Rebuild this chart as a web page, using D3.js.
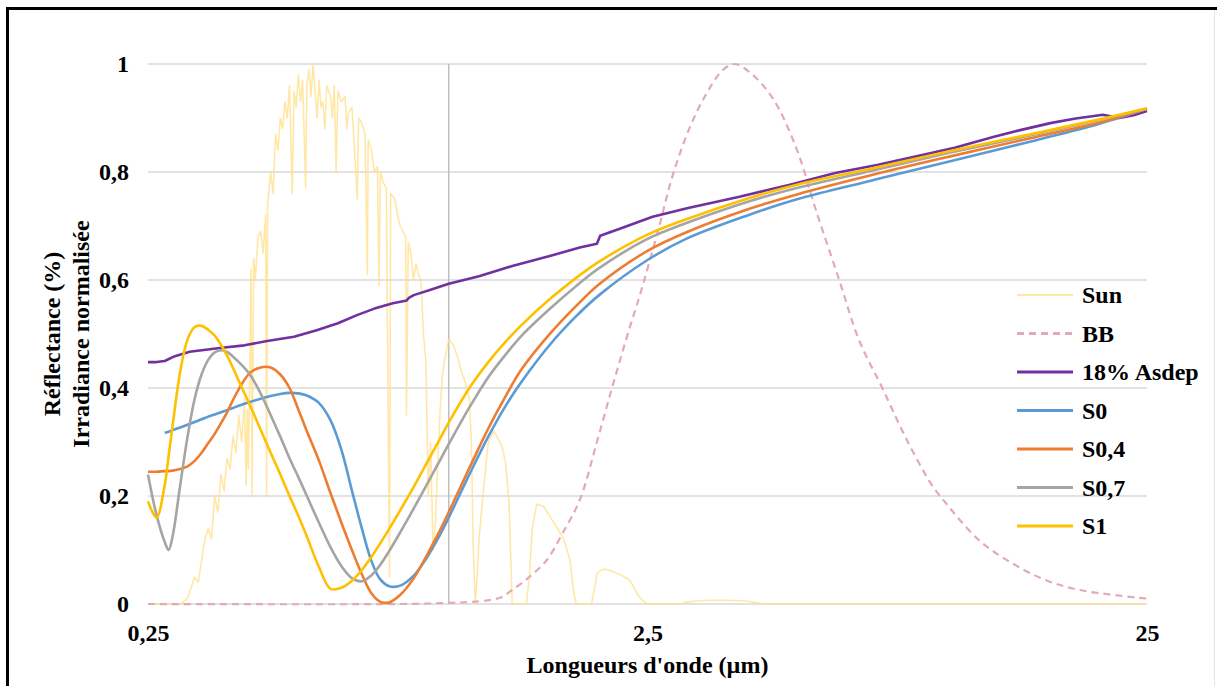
<!DOCTYPE html>
<html>
<head>
<meta charset="utf-8">
<script src="https://d3js.org/d3.v7.min.js"></script>
<style>
body { margin: 0; background: #fff; }
svg { display: block; }
text { font-family: "Liberation Serif", "Times New Roman", serif; font-weight: bold; fill: #000; }
</style>
</head>
<body>
<svg id="chart" width="1217" height="686"></svg>
<script>
// axis ticks
var yTicks = [0, 0.2, 0.4, 0.6, 0.8, 1];
var xTicks = [0.25, 2.5, 25];

// normalised solar irradiance
var sunWave = [0.25, 0.29, 0.30, 0.31, 0.315, 0.32, 0.325, 0.33, 0.335, 0.34, 0.345, 0.35, 0.355, 0.36, 0.365, 0.37, 0.375, 0.38, 0.385, 0.39, 0.393, 0.395, 0.397, 0.40, 0.402, 0.404, 0.407, 0.41, 0.415, 0.42, 0.425, 0.43, 0.432, 0.434, 0.44, 0.445, 0.45, 0.455, 0.46, 0.465, 0.47, 0.475, 0.48, 0.486, 0.49, 0.495, 0.50, 0.505, 0.51, 0.517, 0.52, 0.525, 0.53, 0.535, 0.54, 0.545, 0.55, 0.555, 0.56, 0.565, 0.57, 0.58, 0.585, 0.59, 0.595, 0.60, 0.61, 0.62, 0.625, 0.63, 0.64, 0.645, 0.656, 0.66, 0.67, 0.68, 0.687, 0.69, 0.70, 0.71, 0.72, 0.725, 0.73, 0.74, 0.75, 0.761, 0.765, 0.78, 0.79, 0.80, 0.81, 0.82, 0.823, 0.83, 0.84, 0.85, 0.86, 0.87, 0.88, 0.89, 0.90, 0.91, 0.92, 0.93, 0.94, 0.95, 0.96, 0.97, 0.98, 1.0, 1.02, 1.04, 1.06, 1.08, 1.1, 1.11, 1.12, 1.13, 1.14, 1.15, 1.17, 1.2, 1.23, 1.25, 1.28, 1.3, 1.32, 1.34, 1.43, 1.45, 1.47, 1.5, 1.55, 1.6, 1.65, 1.7, 1.75, 1.78, 1.8, 1.93, 1.96, 1.98, 2.0, 2.05, 2.1, 2.2, 2.3, 2.35, 2.4, 2.45, 2.5, 2.9, 3.0, 3.3, 3.6, 3.9, 4.1, 4.3, 25];
var sunVal = [0, 0, 0.01, 0.05, 0.04, 0.08, 0.12, 0.14, 0.12, 0.2, 0.17, 0.24, 0.21, 0.27, 0.25, 0.31, 0.28, 0.35, 0.3, 0.38, 0.22, 0.36, 0.25, 0.45, 0.62, 0.2, 0.64, 0.6, 0.68, 0.69, 0.65, 0.72, 0.2, 0.74, 0.8, 0.76, 0.87, 0.84, 0.9, 0.88, 0.93, 0.9, 0.96, 0.76, 0.95, 0.92, 0.98, 0.93, 0.97, 0.77, 0.96, 0.99, 0.94, 1.0, 0.95, 0.9, 0.97, 0.92, 0.93, 0.88, 0.96, 0.94, 0.9, 0.96, 0.8, 0.95, 0.93, 0.94, 0.88, 0.91, 0.92, 0.87, 0.75, 0.9, 0.89, 0.87, 0.61, 0.86, 0.84, 0.8, 0.81, 0.59, 0.8, 0.78, 0.77, 0.05, 0.76, 0.75, 0.72, 0.7, 0.69, 0.68, 0.35, 0.67, 0.65, 0.6, 0.63, 0.61, 0.6, 0.5, 0.45, 0.2, 0.3, 0.1, 0.15, 0.25, 0.35, 0.42, 0.45, 0.49, 0.48, 0.46, 0.43, 0.41, 0.38, 0.3, 0.1, 0.0, 0.05, 0.12, 0.2, 0.3, 0.32, 0.31, 0.29, 0.26, 0.19, 0.0, 0.0, 0.05, 0.14, 0.185, 0.18, 0.16, 0.14, 0.12, 0.08, 0.02, 0.0, 0.0, 0.03, 0.055, 0.06, 0.065, 0.062, 0.055, 0.045, 0.03, 0.015, 0.005, 0.0, 0.0, 0.004, 0.007, 0.007, 0.006, 0.003, 0, 0];

// normalised black body
var bbWave = [0.25, 0.8, 1.0, 1.15, 1.27, 1.34, 1.45, 1.57, 1.69, 1.83, 1.98, 2.13, 2.3, 2.41, 2.64, 2.8, 3.03, 3.28, 3.53, 3.73, 4.0, 4.45, 4.97, 5.44, 6.05, 6.64, 7.38, 8.24, 9.29, 9.73, 11.5, 13.4, 15.7, 18.3, 25];
var bbVal = [0, 0, 0.002, 0.005, 0.012, 0.026, 0.05, 0.081, 0.131, 0.193, 0.3, 0.405, 0.51, 0.57, 0.7, 0.79, 0.88, 0.945, 0.988, 1.0, 0.985, 0.937, 0.843, 0.728, 0.6, 0.487, 0.4, 0.306, 0.219, 0.195, 0.119, 0.076, 0.044, 0.026, 0.01];

// 18% Asdep reflectance
var asdepWave = [0.25, 0.26, 0.27, 0.283, 0.303, 0.348, 0.39, 0.433, 0.49, 0.544, 0.6, 0.655, 0.71, 0.773, 0.824, 0.832, 0.851, 0.92, 1.0, 1.15, 1.34, 1.6, 1.83, 1.98, 2.01, 2.2, 2.56, 3.0, 3.82, 4.8, 5.94, 7.2, 8.55, 10.3, 12.3, 14.0, 16.1, 18.0, 20.4, 22.0, 23.5, 25];
var asdepVal = [0.448, 0.448, 0.45, 0.459, 0.467, 0.474, 0.479, 0.487, 0.495, 0.507, 0.52, 0.535, 0.547, 0.557, 0.562, 0.567, 0.572, 0.582, 0.593, 0.607, 0.626, 0.645, 0.66, 0.667, 0.682, 0.695, 0.717, 0.733, 0.754, 0.776, 0.798, 0.813, 0.828, 0.845, 0.865, 0.878, 0.891, 0.899, 0.906, 0.9, 0.905, 0.913];

// S samples, common wavelength grid
var sWave = [0.25, 0.26, 0.27, 0.275, 0.28, 0.29, 0.30, 0.31, 0.32, 0.33, 0.34, 0.35, 0.36, 0.37, 0.38, 0.40, 0.42, 0.44, 0.46, 0.48, 0.50, 0.52, 0.55, 0.58, 0.61, 0.64, 0.67, 0.70, 0.73, 0.76, 0.80, 0.85, 0.90, 0.95, 1.0, 1.1, 1.2, 1.3, 1.4, 1.6, 1.8, 2.0, 2.5, 3, 4, 5, 7, 10, 15, 20, 25];
var s0Val = [null, null, 0.317, 0.319, 0.322, 0.327, 0.332, 0.337, 0.342, 0.347, 0.351, 0.355, 0.359, 0.363, 0.367, 0.374, 0.38, 0.385, 0.389, 0.391, 0.39, 0.386, 0.372, 0.34, 0.285, 0.21, 0.14, 0.08, 0.045, 0.033, 0.034, 0.052, 0.083, 0.12, 0.16, 0.24, 0.31, 0.367, 0.412, 0.482, 0.533, 0.572, 0.637, 0.677, 0.721, 0.75, 0.784, 0.819, 0.859, 0.889, 0.917];
var s04Val = [0.245, 0.245, 0.246, 0.246, 0.247, 0.25, 0.255, 0.265, 0.28, 0.298, 0.315, 0.335, 0.355, 0.378, 0.398, 0.428, 0.438, 0.438, 0.425, 0.4, 0.36, 0.32, 0.265, 0.205, 0.15, 0.1, 0.055, 0.02, 0.004, 0.003, 0.017, 0.047, 0.087, 0.128, 0.17, 0.252, 0.325, 0.385, 0.435, 0.502, 0.552, 0.592, 0.654, 0.689, 0.732, 0.759, 0.794, 0.828, 0.865, 0.891, 0.917];
var s07Val = [0.24, 0.165, 0.115, 0.1, 0.125, 0.22, 0.31, 0.38, 0.425, 0.452, 0.466, 0.47, 0.467, 0.458, 0.448, 0.425, 0.39, 0.35, 0.31, 0.27, 0.235, 0.2, 0.15, 0.105, 0.07, 0.048, 0.042, 0.053, 0.073, 0.098, 0.133, 0.176, 0.218, 0.258, 0.296, 0.364, 0.42, 0.462, 0.497, 0.548, 0.589, 0.622, 0.676, 0.706, 0.746, 0.771, 0.802, 0.835, 0.87, 0.896, 0.917];
var s1Val = [0.19, 0.16, 0.22, 0.275, 0.33, 0.43, 0.49, 0.513, 0.515, 0.508, 0.497, 0.48, 0.46, 0.437, 0.413, 0.368, 0.323, 0.28, 0.24, 0.2, 0.163, 0.125, 0.068, 0.028, 0.03, 0.043, 0.063, 0.087, 0.113, 0.139, 0.174, 0.216, 0.258, 0.298, 0.336, 0.4, 0.448, 0.486, 0.517, 0.566, 0.604, 0.634, 0.684, 0.713, 0.752, 0.777, 0.806, 0.838, 0.872, 0.897, 0.918];

var svg = d3.select("#chart");

var x = d3.scaleLog().domain([0.25, 25]).range([148, 1147]);
var y = d3.scaleLinear().domain([0, 1]).range([604, 64]);

var fmt = function(d) { return String(d).replace(".", ","); };
var fontSize = "24px";

// Frame
svg.append("line").attr("x1", 6).attr("x2", 1217).attr("y1", 8.5).attr("y2", 8.5)
    .attr("stroke", "#000").attr("stroke-width", 3);
svg.append("line").attr("x1", 7.5).attr("x2", 7.5).attr("y1", 7).attr("y2", 686)
    .attr("stroke", "#000").attr("stroke-width", 3);
svg.append("line").attr("x1", 1214.5).attr("x2", 1214.5).attr("y1", 10).attr("y2", 686)
    .attr("stroke", "#E4E4E4").attr("stroke-width", 1);

// Grid lines
svg.append("g").selectAll("line")
    .data(yTicks)
    .join("line")
    .attr("x1", x(0.25)).attr("x2", x(25))
    .attr("y1", function(d) { return y(d); })
    .attr("y2", function(d) { return y(d); })
    .attr("stroke", "#D9D9D9")
    .attr("stroke-width", 1.3);

// 1 µm marker
svg.append("line")
    .attr("x1", x(1)).attr("x2", x(1))
    .attr("y1", y(1)).attr("y2", y(0))
    .attr("stroke", "#BFBFBF")
    .attr("stroke-width", 1.5);

// Y axis
svg.append("g")
    .attr("transform", "translate(" + x(0.25) + ",0)")
    .call(d3.axisLeft(y).tickValues(yTicks).tickFormat(fmt).tickSize(0).tickPadding(19))
    .call(function(g) { g.select(".domain").remove(); })
    .selectAll("text")
    .style("font-size", fontSize)
    .style("font-family", "'Liberation Serif', serif")
    .style("font-weight", "bold");

// X axis
svg.append("g")
    .attr("transform", "translate(0," + y(0) + ")")
    .call(d3.axisBottom(x).tickValues(xTicks).tickFormat(fmt).tickSize(0).tickPadding(20))
    .call(function(g) { g.select(".domain").remove(); })
    .selectAll("text")
    .style("font-size", fontSize)
    .style("font-family", "'Liberation Serif', serif")
    .style("font-weight", "bold");

// Axis titles
svg.append("text")
    .attr("x", (x(0.25) + x(25)) / 2)
    .attr("y", 673)
    .attr("text-anchor", "middle")
    .style("font-size", fontSize)
    .text("Longueurs d'onde (µm)");

var midY = (y(0) + y(1)) / 2;
svg.append("text")
    .attr("text-anchor", "middle")
    .attr("transform", "translate(60," + midY + ")rotate(-90)")
    .style("font-size", fontSize)
    .text("Réflectance (%)");
svg.append("text")
    .attr("text-anchor", "middle")
    .attr("transform", "translate(89," + midY + ")rotate(-90)")
    .style("font-size", fontSize)
    .text("Irradiance normalisée");

// Series
var smooth = d3.curveCatmullRom.alpha(0.5);
var series = [
    {name: "Sun", wave: sunWave, val: sunVal, color: "#FFE08A", width: 1.6, dash: null, curve: d3.curveLinear, opacity: 0.75},
    {name: "BB", wave: bbWave, val: bbVal, color: "#E3AAB3", width: 2.2, dash: "7,5", curve: smooth, opacity: 1},
    {name: "18% Asdep", wave: asdepWave, val: asdepVal, color: "#7030A0", width: 2.6, dash: null, curve: d3.curveLinear, opacity: 1},
    {name: "S0", wave: sWave, val: s0Val, color: "#5B9BD5", width: 2.6, dash: null, curve: smooth, opacity: 1},
    {name: "S0,4", wave: sWave, val: s04Val, color: "#ED7D31", width: 2.6, dash: null, curve: smooth, opacity: 1},
    {name: "S0,7", wave: sWave, val: s07Val, color: "#A5A5A5", width: 2.6, dash: null, curve: smooth, opacity: 1},
    {name: "S1", wave: sWave, val: s1Val, color: "#FFC000", width: 2.6, dash: null, curve: smooth, opacity: 1}
];

series.forEach(function(s) {
    var pts = s.wave.map(function(w, i) { return [w, s.val[i]]; });
    var line = d3.line()
        .defined(function(d) { return d[1] != null; })
        .x(function(d) { return x(d[0]); })
        .y(function(d) { return y(d[1]); })
        .curve(s.curve);
    svg.append("path")
        .datum(pts)
        .attr("fill", "none")
        .attr("stroke", s.color)
        .attr("stroke-width", s.width)
        .attr("stroke-dasharray", s.dash)
        .attr("stroke-opacity", s.opacity)
        .attr("stroke-linejoin", "round")
        .attr("d", line);
});

// Legend
var legend = svg.append("g").attr("transform", "translate(1017,295)");
var rows = legend.selectAll("g")
    .data(series)
    .join("g")
    .attr("transform", function(d, i) { return "translate(0," + (i * 38.5) + ")"; });
rows.append("line")
    .attr("x1", 0).attr("x2", 56)
    .attr("stroke", function(d) { return d.color; })
    .attr("stroke-width", function(d) { return d.name == "Sun" ? 2 : 3; })
    .attr("stroke-dasharray", function(d) { return d.dash; })
    .attr("stroke-opacity", function(d) { return d.opacity; });
rows.append("text")
    .attr("x", 65)
    .attr("y", 8)
    .style("font-size", fontSize)
    .text(function(d) { return d.name; });
</script>
</body>
</html>
